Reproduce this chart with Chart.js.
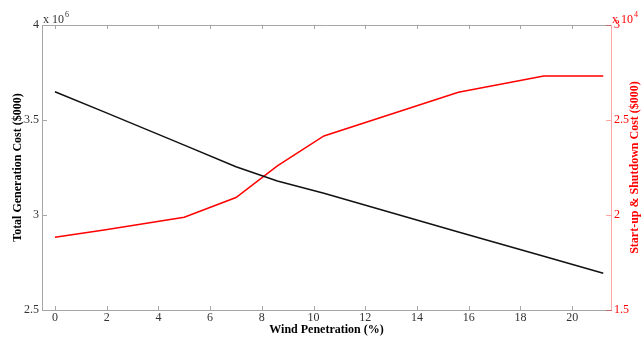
<!DOCTYPE html>
<html>
<head>
<meta charset="utf-8">
<script src="https://cdn.jsdelivr.net/npm/chart.js@4"></script>
<style>
    html, body { margin: 0; padding: 0; background: #fff; }
</style>
</head>
<body>
<canvas id="myChart" width="641" height="337"></canvas>
<script>
const windPenetration = [0, 1.9, 5.0, 7.0, 8.6, 10.4, 15.6, 18.9, 21.2];
// total generation cost, x 10^6 ($000)
const totalCost = [3.649, 3.543, 3.368, 3.254, 3.179, 3.114, 2.911, 2.783, 2.693];
// start-up & shutdown cost, x 10^4 ($000)
const startupCost = [1.883, 1.921, 1.988, 2.092, 2.258, 2.416, 2.646, 2.732, 2.732];

const xTicks = [0, 2, 4, 6, 8, 10, 12, 14, 16, 18, 20];
const leftTicks = [2.5, 3, 3.5, 4];
const rightTicks = [1.5, 2, 2.5, 3];

const serif = '"Liberation Serif", "Times New Roman", serif';
const axisGray = '#a6a6a6';
const axisPink = 'rgba(255, 0, 0, 0.35)';

const toPoints = (ys) => windPenetration.map((x, i) => ({x: x, y: ys[i]}));
const setTicks = (list) => (scale) => { scale.ticks = list.map(v => ({value: v})); };
const plain = (v) => String(v);

// MATLAB-style box: top border, inward tick marks, exponents, right title
const frame = {
    id: 'frame',
    afterDraw(chart) {
        const {ctx, chartArea: a, scales} = chart;
        ctx.save();
        ctx.lineWidth = 1;

        ctx.strokeStyle = axisGray;
        ctx.beginPath();
        ctx.moveTo(a.left, a.top + 0.5);
        ctx.lineTo(a.right, a.top + 0.5);
        scales.x.ticks.forEach(t => {
            const px = Math.round(scales.x.getPixelForValue(t.value)) + 0.5;
            ctx.moveTo(px, a.bottom);
            ctx.lineTo(px, a.bottom - 4);
            ctx.moveTo(px, a.top);
            ctx.lineTo(px, a.top + 4);
        });
        scales.y.ticks.forEach(t => {
            const py = Math.round(scales.y.getPixelForValue(t.value)) + 0.5;
            ctx.moveTo(a.left, py);
            ctx.lineTo(a.left + 5, py);
        });
        ctx.stroke();

        ctx.strokeStyle = axisPink;
        ctx.beginPath();
        scales.y1.ticks.forEach(t => {
            const py = Math.round(scales.y1.getPixelForValue(t.value)) + 0.5;
            ctx.moveTo(a.right, py);
            ctx.lineTo(a.right - 5, py);
        });
        ctx.stroke();

        // exponent labels
        ctx.textBaseline = 'alphabetic';
        ctx.textAlign = 'left';
        const exponent = (x, pow, color) => {
            ctx.fillStyle = color;
            ctx.font = '12px ' + serif;
            ctx.fillText('x 10', x, a.top - 2);
            const w = ctx.measureText('x 10').width;
            ctx.font = '8px ' + serif;
            ctx.fillText(pow, x + w + 1, a.top - 8);
        };
        exponent(a.left + 1, '6', '#333');
        exponent(a.right + 1, '4', '#ff0000');

        // right axis title, reading bottom to top
        ctx.translate(a.right + 24, (a.top + a.bottom) / 2);
        ctx.rotate(-Math.PI / 2);
        ctx.textAlign = 'center';
        ctx.textBaseline = 'middle';
        ctx.fillStyle = '#ff0000';
        ctx.font = 'bold 12px ' + serif;
        ctx.fillText('Start-up & Shutdown Cost ($000)', 0, 0);
        ctx.restore();
    }
};

const data = {
    datasets: [{
        label: 'Total Generation Cost',
        data: toPoints(totalCost),
        yAxisID: 'y',
        borderColor: '#111',
        borderWidth: 1.5,
        pointRadius: 0,
        tension: 0,
    }, {
        label: 'Start-up & Shutdown Cost',
        data: toPoints(startupCost),
        yAxisID: 'y1',
        borderColor: '#ff0000',
        borderWidth: 1.5,
        pointRadius: 0,
        tension: 0,
    }],
};

const config = {
    type: 'line',
    data: data,
    plugins: [frame],
    options: {
        responsive: false,
        animation: false,
        layout: { padding: { top: 25, left: 0, right: 0, bottom: 0 } },
        plugins: {
            legend: { display: false },
            tooltip: { enabled: false },
        },
        scales: {
            x: {
                type: 'linear',
                min: -0.5,
                max: 21.5,
                afterBuildTicks: setTicks(xTicks),
                afterFit: (s) => { s.height = 27; },
                grid: { display: false, drawTicks: false },
                border: { display: true, color: axisGray, width: 1 },
                ticks: { color: '#333', padding: 1, maxRotation: 0, autoSkip: false,
                         callback: plain, font: { family: serif, size: 12 } },
                title: { display: true, text: 'Wind Penetration (%)', color: '#000',
                         font: { family: serif, size: 12, weight: 'bold' },
                         padding: { top: 0, bottom: 0 } },
            },
            y: {
                position: 'left',
                min: 2.5,
                max: 4,
                afterBuildTicks: setTicks(leftTicks),
                afterFit: (s) => { s.width = 42; },
                grid: { display: false, drawTicks: false },
                border: { display: true, color: axisGray, width: 1 },
                ticks: { color: '#333', padding: 3, callback: plain,
                         font: { family: serif, size: 12 } },
                title: { display: true, text: 'Total Generation Cost ($000)', color: '#000',
                         font: { family: serif, size: 12, weight: 'bold' },
                         padding: { top: 11, bottom: 0 } },
            },
            y1: {
                position: 'right',
                min: 1.5,
                max: 3,
                afterBuildTicks: setTicks(rightTicks),
                afterFit: (s) => { s.width = 30; },
                grid: { display: false, drawTicks: false },
                border: { display: true, color: axisPink, width: 1 },
                ticks: { color: '#ff0000', padding: 3, callback: plain,
                         font: { family: serif, size: 12 } },
            },
        },
    },
};

var myChart = new Chart(
    document.getElementById('myChart'),
    config
);
</script>
</body>
</html>
